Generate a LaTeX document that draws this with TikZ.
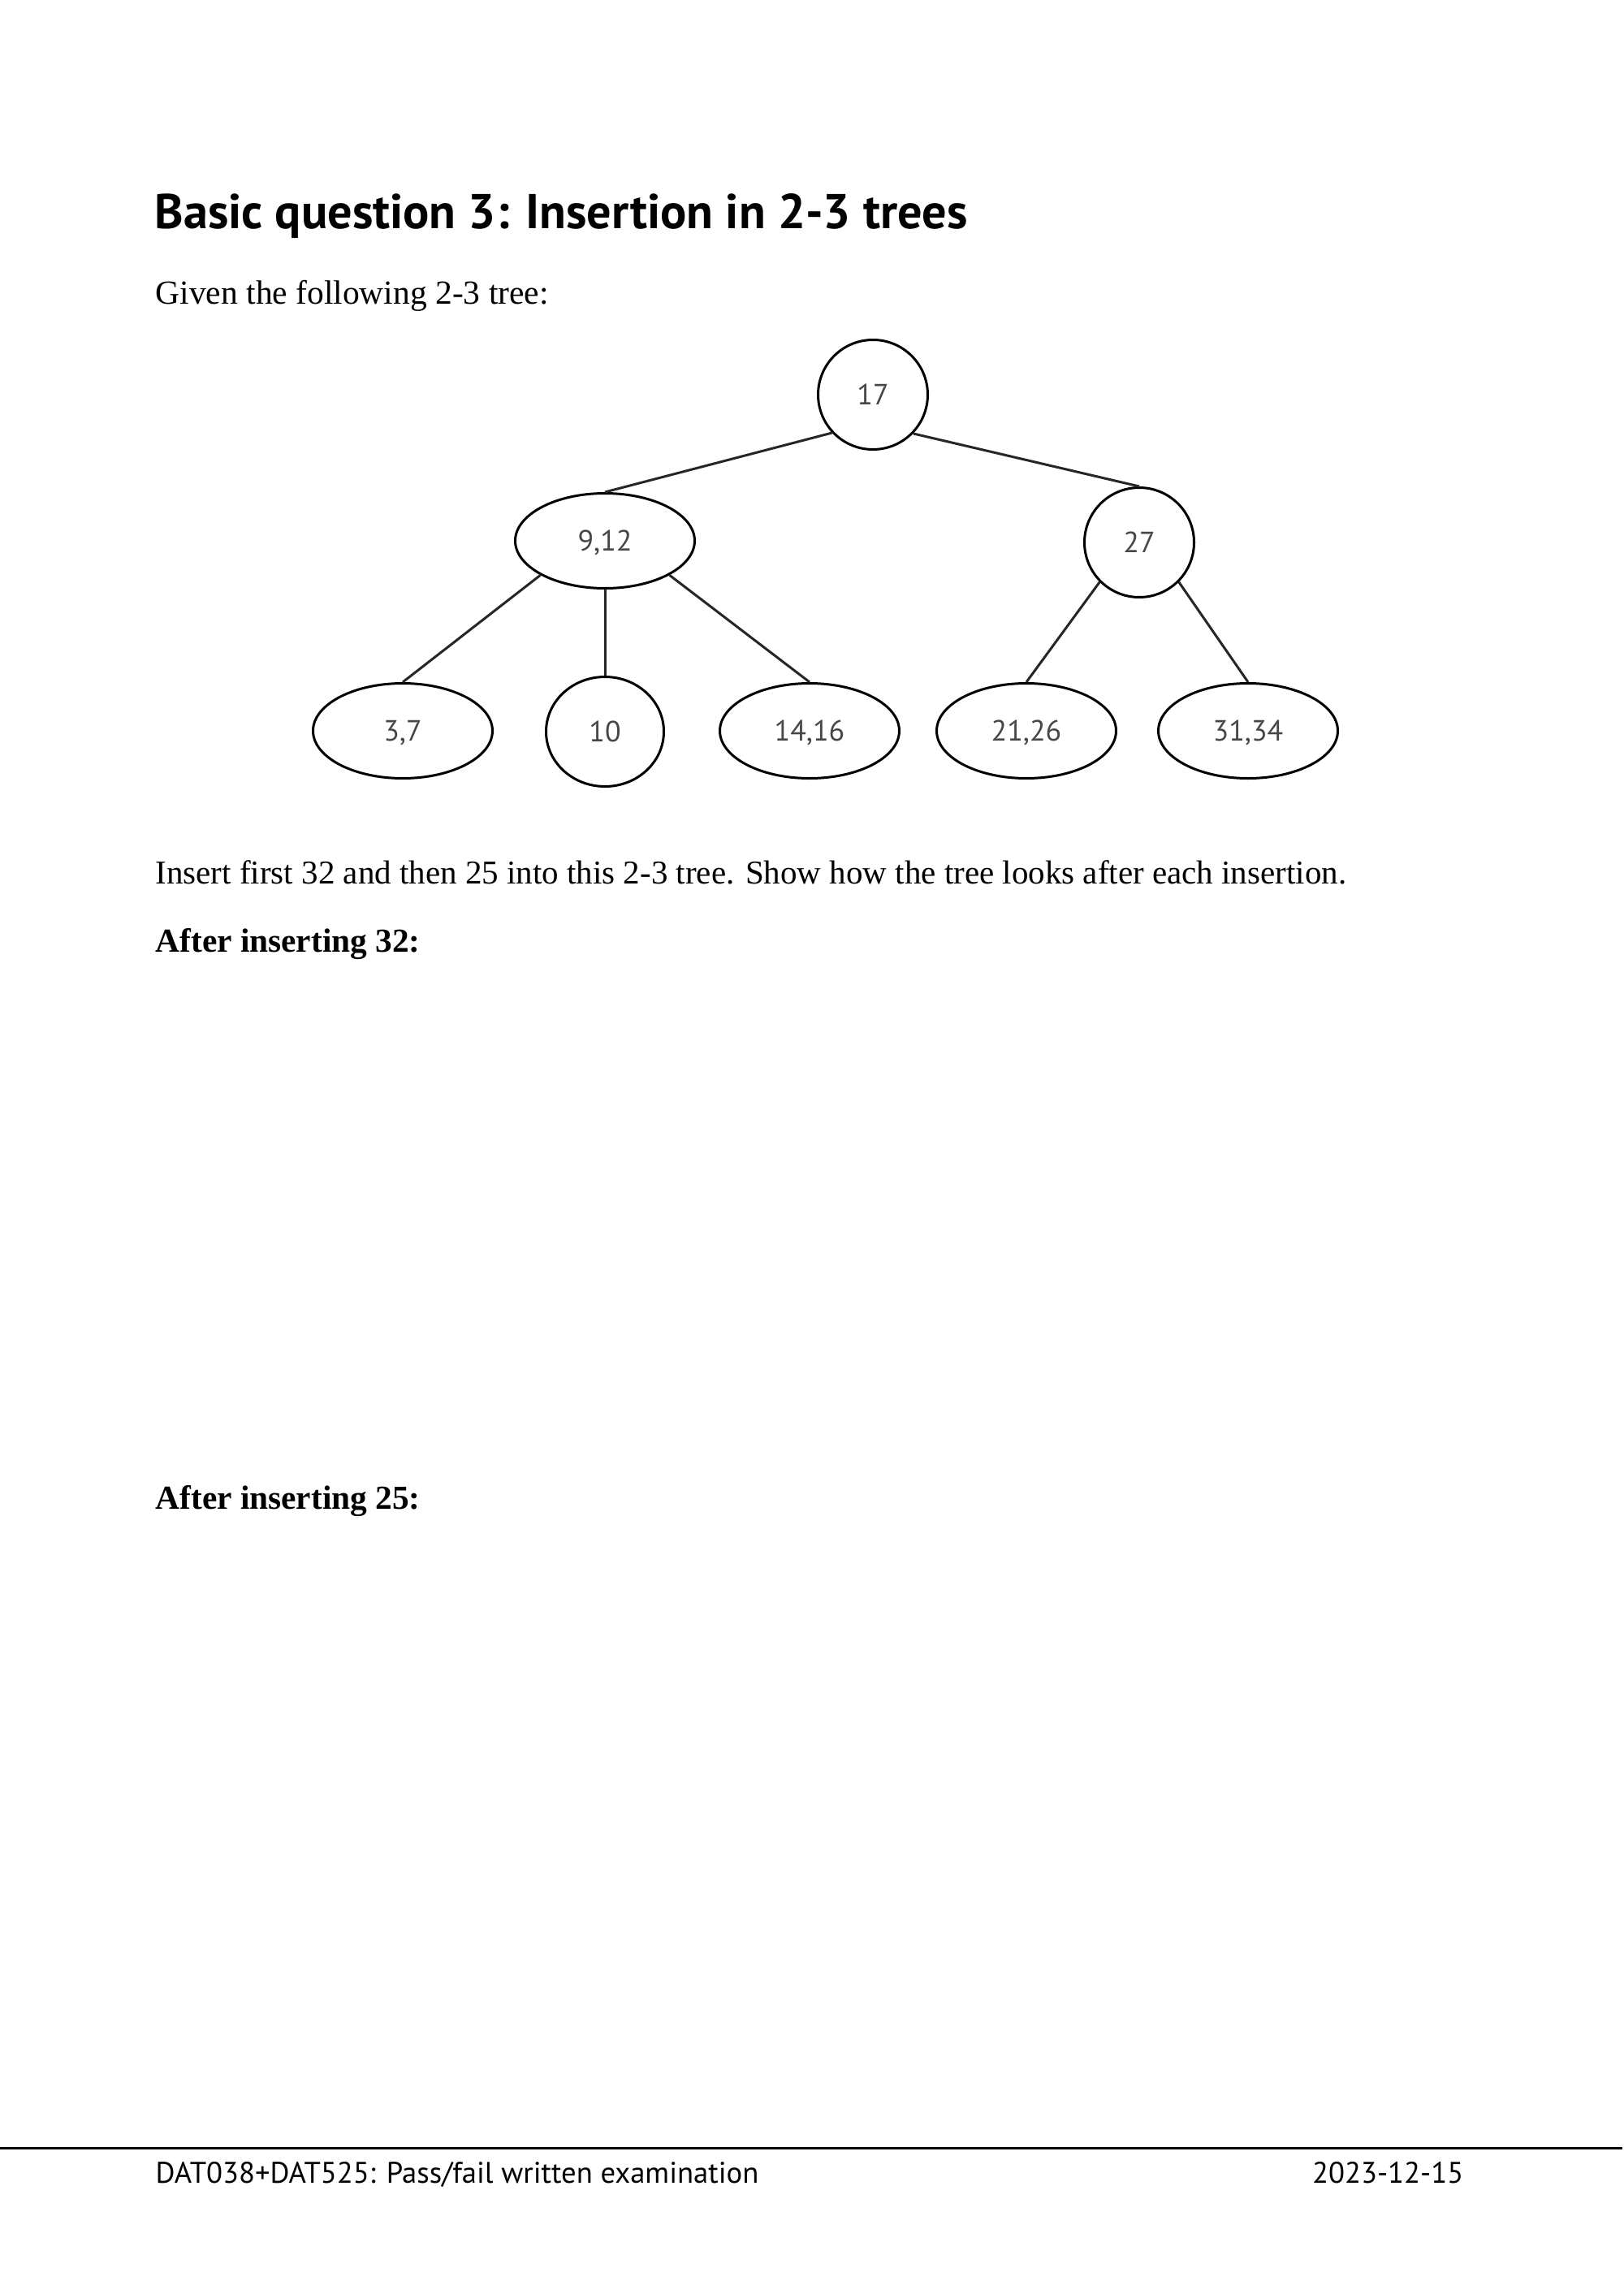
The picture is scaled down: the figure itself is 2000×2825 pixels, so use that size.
\documentclass[tikz,border=0pt]{standalone}
\usepackage{fontspec}
\setmainfont{Liberation Serif}
\newfontfamily\ptsans{PT Sans}
\usetikzlibrary{shapes.geometric}
\tikzset{
  tnode/.style={draw, ellipse, line width=0.9pt, inner sep=0pt, text=black!72, text height=7.6pt, text depth=0pt, font=\ptsans\fontsize{10.8pt}{12pt}\selectfont},
  wide/.style={tnode, minimum width=66.3pt, minimum height=35.1pt},
  round/.style={tnode, minimum width=40.5pt, minimum height=40.5pt},
  edge/.style={line width=0.9pt, black!85},
  body/.style={anchor=base west, inner sep=0pt, font=\fontsize{12.3pt}{14pt}\selectfont},
  bodybold/.style={body, font=\fontsize{12.4pt}{14pt}\selectfont\bfseries},
  foot/.style={inner sep=0pt, font=\ptsans\fontsize{11pt}{12pt}\selectfont}
}
\begin{document}
\begin{tikzpicture}[x=0.3pt,y=-0.3pt]
\useasboundingbox[fill=white] (0,0) rectangle (2000,2825);
% texts
\node[anchor=base west, inner sep=0pt, font=\ptsans\bfseries\fontsize{18.05pt}{22pt}\selectfont] (title) at (190,282) {Basic question 3: Insertion in 2-3 trees};
\node[body, font=\fontsize{12.45pt}{14pt}\selectfont] (given) at (191,375) {Given the following 2-3 tree:};
\node[body] (insert) at (191,1088) {Insert first 32 and then 25 into this 2-3 tree. Show how the tree looks after each insertion.};
\node[bodybold] (after32) at (191,1172) {After inserting 32:};
\node[bodybold] (after25) at (191,1858) {After inserting 25:};
% tree
\node[round] (root) at (1075,486) {17};
\node[wide] (n912) at (745,666) {9,12};
\node[round] (n27) at (1403,668) {27};
\node[wide] (n37) at (496,900) {3,7};
\node[round, minimum width=43.5pt] (n10) at (745,901) {10};
\node[wide] (n1416) at (997,900) {14,16};
\node[wide] (n2126) at (1264,900) {21,26};
\node[wide] (n3134) at (1537,900) {31,34};
\draw[edge] (root.-137) -- (n912.north);
\draw[edge] (root.-44) -- (n27.north);
\draw[edge] (n912.-152) -- (n37.north);
\draw[edge] (n912.south) -- (n10.north);
\draw[edge] (n912.-28) -- (n1416.north);
\draw[edge] (n27.-135) -- (n2126.north);
\draw[edge] (n27.-45) -- (n3134.north);
% footer
\coordinate (fl) at (0,2645);
\coordinate (fr) at (1998,2645);
\draw[line width=0.9pt] (fl) -- (fr);
\node[foot, anchor=base west] (footl) at (191,2688) {DAT038+DAT525: Pass/fail written examination};
\node[foot, anchor=base east] (footr) at (1803,2688) {2023-12-15};
\end{tikzpicture}
\end{document}
